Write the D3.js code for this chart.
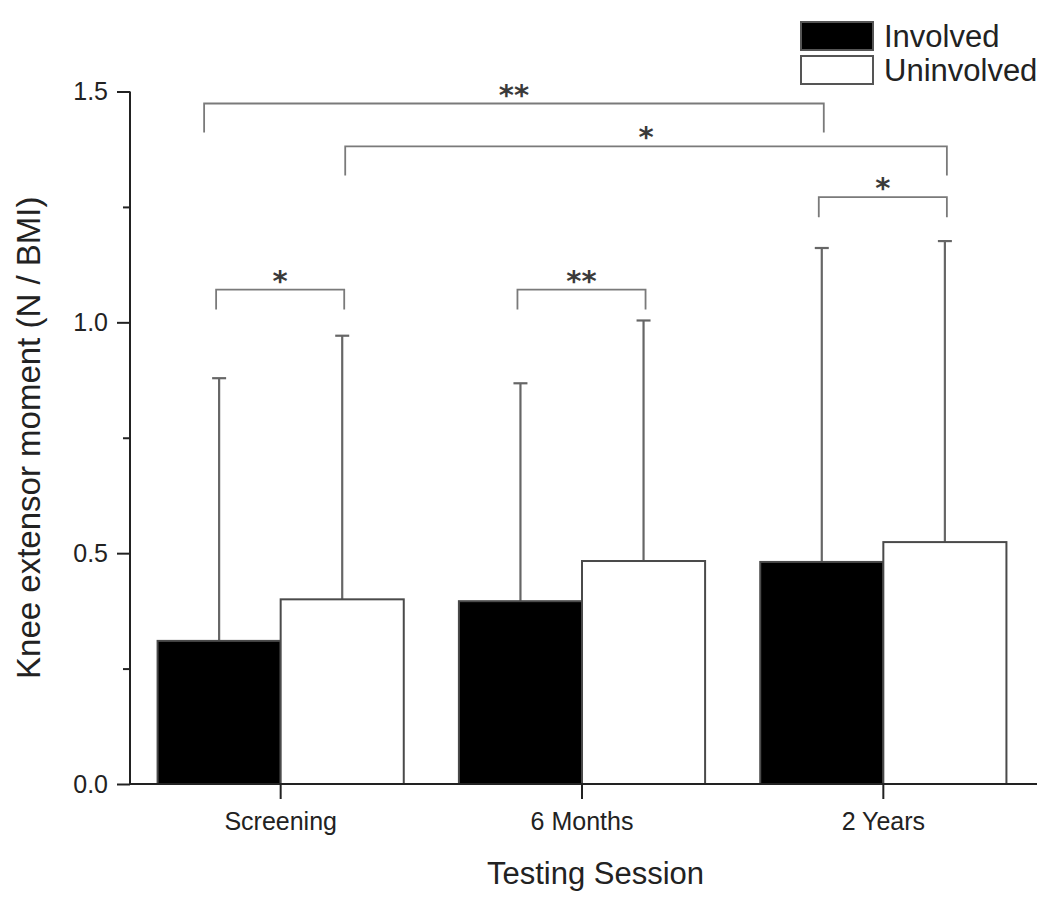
<!DOCTYPE html>
<html>
<head>
<meta charset="utf-8">
<script src="https://cdn.jsdelivr.net/npm/d3@7"></script>
<style>
  html, body { margin: 0; padding: 0; background: #fff; }
  svg { display: block; }
  text { font-family: "Liberation Sans", Arial, sans-serif; }
</style>
</head>
<body>
<svg id="chart" width="1050" height="903"></svg>
<script>
// ---- data ----
const categories = ["Screening", "6 Months", "2 Years"];
const seriesNames = ["Involved", "Uninvolved"];
const involvedMean = [0.310, 0.396, 0.481];
const involvedSD = [0.569, 0.472, 0.680];
const uninvolvedMean = [0.400, 0.483, 0.524];
const uninvolvedSD = [0.571, 0.521, 0.652];
const yTickValues = [0.0, 0.5, 1.0, 1.5];
const yMinorTickValues = [0.25, 0.75, 1.25];
// significance brackets: [categoryIndex, seriesIndex]
const bracketFrom = [[0, 0], [1, 0], [2, 0], [0, 0], [0, 1]];
const bracketTo = [[0, 1], [1, 1], [2, 1], [2, 0], [2, 1]];
const bracketLevel = [1.071, 1.071, 1.271, 1.474, 1.381];
const bracketLabel = ["*", "**", "*", "**", "*"];

// ---- layout ----
const svg = d3.select("#chart");
const y = d3.scaleLinear().domain([0, 1.5]).range([784, 91.5]);
const x = d3.scaleBand().domain(categories).range([130, 1034])
  .paddingInner(0.183).paddingOuter(0.0915);
const xs = d3.scaleBand().domain(seriesNames).range([0, x.bandwidth()]);

const means = [involvedMean, uninvolvedMean];
const sds = [involvedSD, uninvolvedSD];
const fills = ["#000000", "#ffffff"];

const barData = [];
seriesNames.forEach((s, si) => {
  categories.forEach((c, ci) => {
    barData.push({ c, s, si, ci, mean: means[si][ci], sd: sds[si][ci] });
  });
});
const cx = (ci, si) => x(categories[ci]) + xs(seriesNames[si]) + xs.bandwidth() / 2;

// error bars (upper only)
const eb = svg.append("g").attr("stroke", "#666").attr("stroke-width", 2.2).attr("fill", "none");
barData.forEach(d => {
  const xc = cx(d.ci, d.si);
  eb.append("line").attr("x1", xc).attr("x2", xc)
    .attr("y1", y(d.mean)).attr("y2", y(d.mean + d.sd));
  eb.append("line").attr("x1", xc - 7).attr("x2", xc + 7)
    .attr("y1", y(d.mean + d.sd)).attr("y2", y(d.mean + d.sd));
});

// bars
svg.append("g").selectAll("rect").data(barData).join("rect")
  .attr("x", d => x(d.c) + xs(d.s))
  .attr("y", d => y(d.mean))
  .attr("width", xs.bandwidth())
  .attr("height", d => y(0) - y(d.mean))
  .attr("fill", d => fills[d.si])
  .attr("stroke", "#4a4a4a")
  .attr("stroke-width", 2);

// axes
const axisColor = "#222";
const yAxis = svg.append("g").attr("transform", "translate(130,0)")
  .call(d3.axisLeft(y).tickValues(yTickValues).tickFormat(d3.format(".1f")).tickSize(13).tickSizeOuter(0).tickPadding(9));
const yMinor = svg.append("g").attr("transform", "translate(130,0)")
  .call(d3.axisLeft(y).tickValues(yMinorTickValues).tickFormat("").tickSize(7).tickSizeOuter(0));
const xAxis = svg.append("g").attr("transform", "translate(0,784)")
  .call(d3.axisBottom(x).tickSize(15).tickSizeOuter(0).tickPadding(9));
[yAxis, yMinor, xAxis].forEach(g => {
  g.select(".domain").remove();
  g.selectAll(".tick line").attr("stroke", axisColor).attr("stroke-width", 2);
  g.selectAll(".tick text").attr("fill", "#222").style("font-size", "25px")
    .style("font-family", "'Liberation Sans', Arial, sans-serif");
});
xAxis.selectAll(".tick text").attr("dy", "0.88em");
svg.append("line").attr("x1", 130).attr("x2", 130).attr("y1", y(1.5)).attr("y2", y(0) + 1)
  .attr("stroke", axisColor).attr("stroke-width", 2);
svg.append("line").attr("x1", 129).attr("x2", 1037).attr("y1", y(0)).attr("y2", y(0))
  .attr("stroke", axisColor).attr("stroke-width", 2);

// axis titles
svg.append("text").attr("transform", "translate(40," + ((y(0) + y(1.5)) / 2) + ") rotate(-90)")
  .attr("text-anchor", "middle").attr("fill", "#222").style("font-size", "33px")
  .text("Knee extensor moment (N / BMI)");
svg.append("text").attr("x", (130 + 1037) / 2 + 12).attr("y", 884)
  .attr("text-anchor", "middle").attr("fill", "#222").style("font-size", "31px")
  .text("Testing Session");

// significance brackets
const br = svg.append("g");
bracketLevel.forEach((lv, i) => {
  const [c1, s1] = bracketFrom[i];
  const [c2, s2] = bracketTo[i];
  const x1 = cx(c1, s1) + (c1 !== c2 && s1 === 0 ? -15 : (c1 === c2 ? -3 : 3));
  const x2 = cx(c2, s2) + 2;
  const yy = y(lv);
  const leg = c1 === c2 ? 20 : 29;
  br.append("path")
    .attr("d", `M${x1},${yy + leg}V${yy}H${x2}V${yy + leg}`)
    .attr("fill", "none").attr("stroke", "#7a7a7a").attr("stroke-width", 1.8);
  br.append("text").attr("x", (x1 + x2) / 2).attr("y", yy + 1)
    .attr("text-anchor", "middle").attr("fill", "#3a3a3a")
    .style("font-family", "'DejaVu Sans', sans-serif").style("font-size", "29px")
    .style("font-weight", "bold")
    .text(bracketLabel[i]);
});

// legend
const leg = svg.append("g");
const legendY = [22, 56];
seriesNames.forEach((s, i) => {
  leg.append("rect").attr("x", 801).attr("y", legendY[i]).attr("width", 72).attr("height", 28)
    .attr("fill", fills[i]).attr("stroke", "#555").attr("stroke-width", 2);
  leg.append("text").attr("x", 884).attr("y", legendY[i] + 25).attr("fill", "#222")
    .style("font-size", "31px").text(s);
});
</script>
</body>
</html>
